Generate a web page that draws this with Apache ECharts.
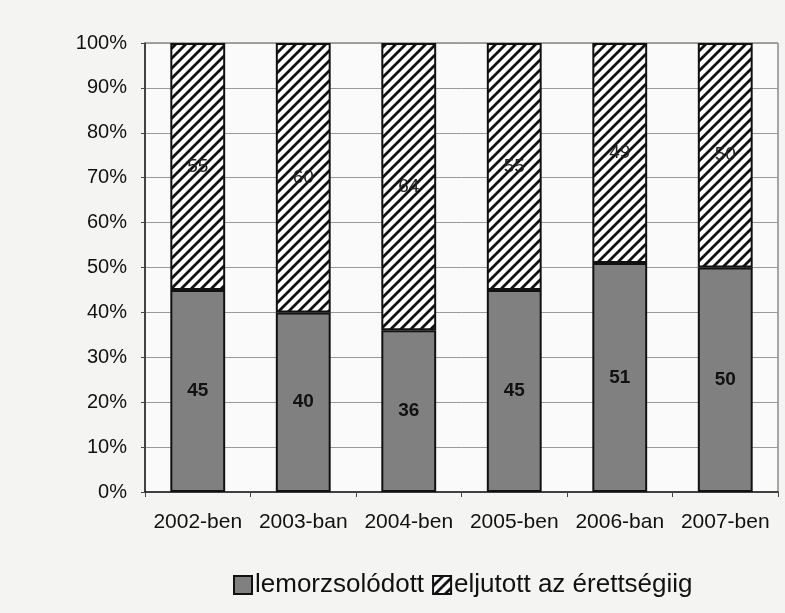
<!DOCTYPE html>
<html>
<head>
<meta charset="utf-8">
<script src="https://cdn.jsdelivr.net/npm/echarts@6/dist/echarts.min.js"></script>
<style>
  html, body { margin: 0; padding: 0; background: #f4f4f2; }
  #divChart { width: 785px; height: 613px; }
</style>
</head>
<body>
<div id="divChart"></div>
<script>
var years = ['2002-ben', '2003-ban', '2004-ben', '2005-ben', '2006-ban', '2007-ben'];
var dropped = [45, 40, 36, 45, 51, 50];   // lemorzsolódott
var reached = [55, 60, 64, 55, 49, 50];   // eljutott az érettségiig
var yTicks = [0, 10, 20, 30, 40, 50, 60, 70, 80, 90, 100];

var myChart;

// diagonal hatch for the upper segments
function makeHatch() {
    var s = 10;
    var c = document.createElement('canvas');
    c.width = s;
    c.height = s;
    var ctx = c.getContext('2d');
    ctx.fillStyle = '#ffffff';
    ctx.fillRect(0, 0, s, s);
    ctx.strokeStyle = '#111111';
    ctx.lineWidth = 2.8;
    ctx.beginPath();
    ctx.moveTo(-1, s + 1); ctx.lineTo(s + 1, -1);
    ctx.moveTo(-2, 2); ctx.lineTo(2, -2);
    ctx.moveTo(s - 2, s + 2); ctx.lineTo(s + 2, s - 2);
    ctx.stroke();
    return c;
}

function initChart() {
    myChart = echarts.init(document.getElementById('divChart'));
    var hatch = { image: makeHatch(), repeat: 'repeat' };
    var font = 'Liberation Sans, Arial, sans-serif';

    var option = {
        backgroundColor: '#f4f4f2',
        textStyle: { fontFamily: font },
        grid: {
            left: 145,
            right: 7,
            top: 43,
            bottom: 121,
            show: true,
            backgroundColor: '#fafafa',
            borderColor: '#555',
            borderWidth: 1
        },
        legend: {
            top: 567,
            left: 228,
            icon: 'rect',
            itemWidth: 18,
            itemHeight: 18,
            itemGap: 8,
            textStyle: { fontSize: 26, color: '#111', fontFamily: font, padding: [0, 0, 0, -2] },
            data: ['lemorzsolódott', 'eljutott az érettségiig']
        },
        xAxis: {
            type: 'category',
            data: years,
            axisLine: { lineStyle: { color: '#222', width: 1.5 } },
            axisTick: { show: true, length: 5, lineStyle: { color: '#444' } },
            axisLabel: { fontSize: 21, color: '#111', margin: 20, interval: 0, hideOverlap: false }
        },
        yAxis: {
            type: 'value',
            min: 0,
            max: 100,
            interval: 10,
            axisLine: { show: true, lineStyle: { color: '#222', width: 1.5 } },
            axisTick: { show: true, length: 4, lineStyle: { color: '#444' } },
            splitLine: { lineStyle: { color: '#999', width: 1 } },
            axisLabel: {
                fontSize: 20,
                color: '#111',
                margin: 18,
                formatter: function (v) {
                    return yTicks.indexOf(v) >= 0 ? v + '%' : '';
                }
            }
        },
        series: [
            {
                name: 'lemorzsolódott',
                type: 'bar',
                stack: 'total',
                barWidth: '52%',
                data: dropped,
                itemStyle: { color: '#808080', borderColor: '#111', borderWidth: 2 },
                label: {
                    show: true,
                    position: 'inside',
                    fontSize: 19,
                    fontWeight: 'bold',
                    color: '#111'
                }
            },
            {
                name: 'eljutott az érettségiig',
                type: 'bar',
                stack: 'total',
                data: reached,
                itemStyle: { color: hatch, borderColor: '#111', borderWidth: 2 },
                label: {
                    show: true,
                    position: 'inside',
                    fontSize: 19,
                    color: '#222'
                }
            }
        ]
    };
    myChart.setOption(option);
}

initChart();
</script>
</body>
</html>
